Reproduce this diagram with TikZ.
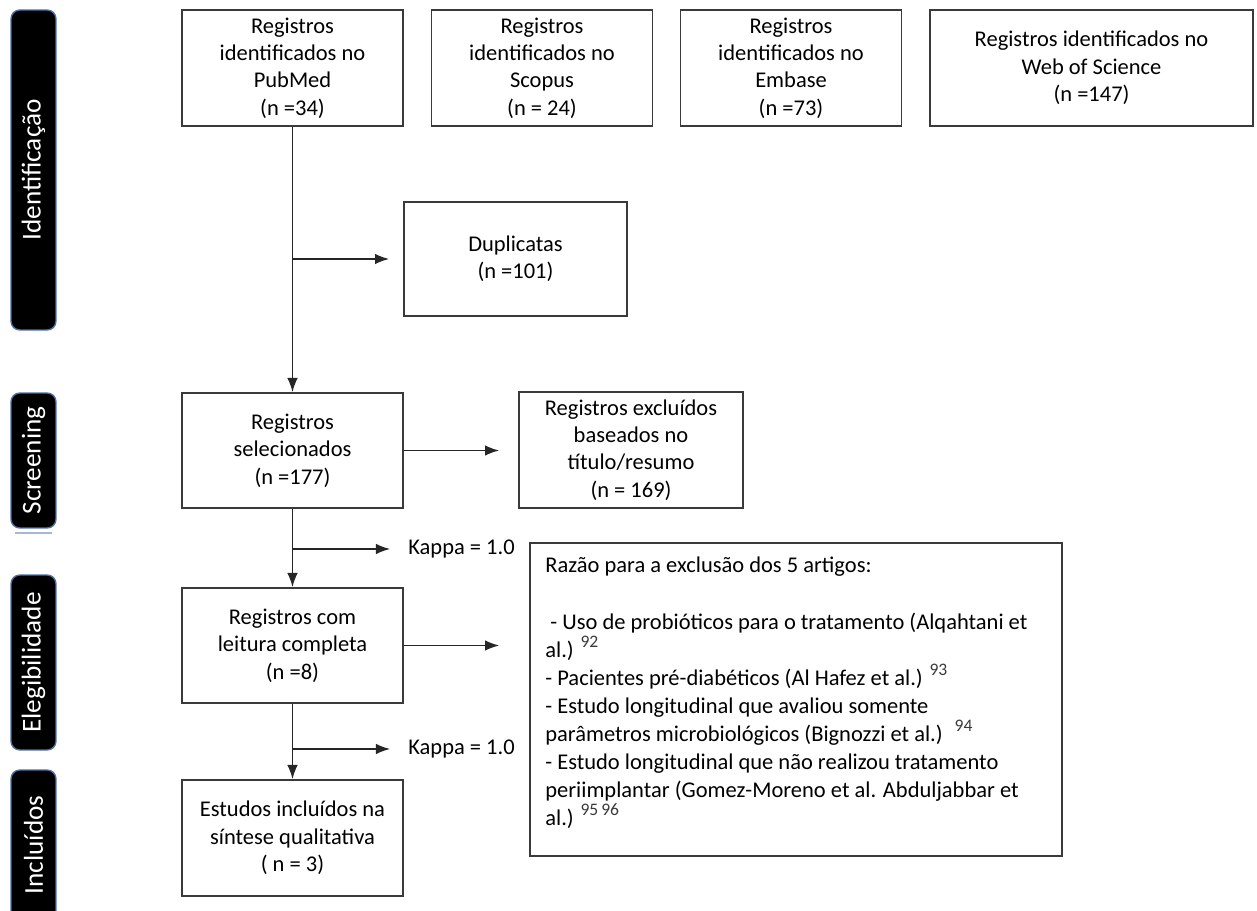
\documentclass[tikz,border=0pt]{standalone}
\usepackage{fontspec}
\setmainfont{Carlito}
\usepackage{xcolor}
\usetikzlibrary{positioning, arrows.meta}
\definecolor{boxgray}{HTML}{3A3A3A}
\definecolor{phaseblue}{HTML}{4F6FA8}
\tikzset{
    box/.style={draw=boxgray, line width=1.1pt, align=center, inner sep=2pt,
        minimum width=4.42cm, minimum height=2.32cm, font=\fontsize{12.8}{15.6}\selectfont},
    phase/.style={fill=black, draw=phaseblue, line width=0.8pt, rounded corners=5pt,
        text=white, rotate=90, minimum height=0.9cm, font=\fontsize{15.5}{18}\selectfont},
    link/.style={-{Latex[length=8pt,width=6pt]}, line width=0.8pt, draw=black!85},
    kappa/.style={anchor=west, inner sep=0pt, font=\fontsize{12.8}{15.6}\selectfont}
}
\newcommand{\refnum}[1]{\raisebox{0.45em}{\fontsize{10}{10}\selectfont\textcolor{boxgray}{#1}}}
\begin{document}
\begin{tikzpicture}[x=0.02cm, y=-0.02cm, >=latex]
    \useasboundingbox (0,0) rectangle (1257,911);
    % Phases
    \node[phase, minimum width=6.4cm] (phId) at (33.5,170) {Identificação};
    \node[phase, minimum width=2.7cm] (phScr) at (33.5,460.5) {Screening};
    \draw[phaseblue!50, line width=1pt] (15,533) -- (52,533);
    \node[phase, minimum width=3.5cm] (phEleg) at (33.5,662.5) {Elegibilidade};
    \node[phase, minimum width=3cm] (phInc) at (33.5,845) {Incluídos};
    % Sources
    \node[box] (pubmed) at (292.5,68) {Registros\\identificados no\\PubMed\\(n =34)};
    \node[box] (scopus) at (542,68) {Registros\\identificados no\\Scopus\\(n = 24)};
    \node[box] (embase) at (791,68) {Registros\\identificados no\\Embase\\(n =73)};
    \node[box, minimum width=6.46cm] (wos) at (1091.5,68) {Registros identificados no\\Web of Science\\(n =147)};
    % Screening
    \node[box, minimum width=4.46cm, minimum height=2.28cm] (dup) at (515.5,259) {Duplicatas\\(n =101)};
    \node[box, minimum height=2.3cm] (selec) at (292.5,450.5) {Registros\\selecionados\\(n =177)};
    \node[box, minimum width=4.48cm] (excl) at (631,450) {Registros excluídos\\baseados no\\título/resumo\\(n = 169)};
    % Eligibility
    \node[box, minimum height=2.3cm] (leitura) at (292.5,645.5) {Registros com\\leitura completa\\(n =8)};
    \node[box, minimum width=10.64cm, minimum height=6.26cm] (reasons) at (796,699.5) {};
    \node[anchor=north west, align=left, inner sep=0pt, font=\fontsize{12.8}{16}\selectfont]
        (reasonstxt) at (545,557) {Razão para a exclusão dos 5 artigos:\\[16pt]
        \ - Uso de probióticos para o tratamento (Alqahtani et\\
        al.) \refnum{92}\\
        - Pacientes pré-diabéticos (Al Hafez et al.) \refnum{93}\\
        - Estudo longitudinal que avaliou somente\\
        parâmetros microbiológicos (Bignozzi et al.) \ \refnum{94}\\
        - Estudo longitudinal que não realizou tratamento\\
        periimplantar (Gomez-Moreno et al. Abduljabbar et\\
        al.) \refnum{95\,96}};
    % Included
    \node[box] (incl) at (292.5,838) {Estudos incluídos na\\síntese qualitativa\\( n = 3)};
    % Kappa labels
    \node[kappa] (kappaA) at (408,549) {Kappa = 1.0};
    \node[kappa] (kappaB) at (408,749) {Kappa = 1.0};
    % Branch points
    \coordinate (b1) at (pubmed.south |- dup.west);
    \coordinate (b2) at (selec.south |- kappaA.west);
    \coordinate (b3) at (leitura.south |- kappaB.west);
    % Connectors
    \draw[link] (pubmed.south) -- (selec.north);
    \draw[link, shorten >=0.28cm] (b1) -- (dup.west);
    \draw[link, shorten >=0.38cm] (selec.east) -- (selec.east -| excl.west);
    \draw[link] (selec.south) -- (leitura.north);
    \draw[link, shorten >=0.36cm] (b2) -- (kappaA.west);
    \draw[link, shorten >=0.6cm] (leitura.east) -- (leitura.east -| reasons.west);
    \draw[link] (leitura.south) -- (incl.north);
    \draw[link, shorten >=0.36cm] (b3) -- (kappaB.west);
\end{tikzpicture}
\end{document}
